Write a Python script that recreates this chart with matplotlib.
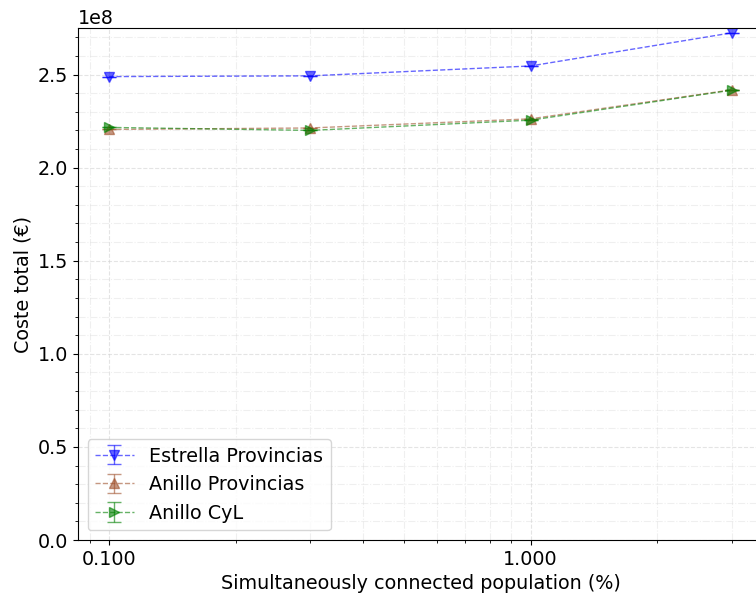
import numpy as np
import matplotlib
matplotlib.use('Agg')
import matplotlib.pyplot as plt
from matplotlib.ticker import FormatStrFormatter, MultipleLocator

# Data
population = [0.1, 0.3, 1.0, 3.0]
estrella_prov = [2.489e8, 2.493e8, 2.546e8, 2.724e8]
anillo_prov = [2.205e8, 2.213e8, 2.262e8, 2.418e8]
anillo_cyl = [2.216e8, 2.200e8, 2.255e8, 2.416e8]
estrella_err = [0.0, 0.0, 0.0, 0.0]
anillo_prov_err = [0.0, 0.0, 0.0, 0.0]
anillo_cyl_err = [0.0, 0.0, 0.0, 0.0]

fs = 13.8

fig = plt.figure(figsize=(7.56, 5.98), dpi=100)
ax = fig.add_axes([78 / 756, 1 - 540 / 598, (763 - 78) / 756, (540 - 28) / 598])

ax.errorbar(population, estrella_prov, yerr=estrella_err, fmt='v--', color='blue',
            alpha=0.6, capsize=5, markersize=7, linewidth=1, label='Estrella Provincias')
ax.errorbar(population, anillo_prov, yerr=anillo_prov_err, fmt='^--', color='sienna',
            alpha=0.6, capsize=5, markersize=7, linewidth=1, label='Anillo Provincias')
ax.errorbar(population, anillo_cyl, yerr=anillo_cyl_err, fmt='>--', color='green',
            alpha=0.6, capsize=5, markersize=7, linewidth=1, label='Anillo CyL')

ax.set_xscale('log')
ax.set_xlim(0.0844, 3.56)
ax.set_ylim(0, 2.75e8)
ax.xaxis.set_major_formatter(FormatStrFormatter('%.3f'))
ax.yaxis.set_major_locator(MultipleLocator(0.5e8))
ax.yaxis.set_minor_locator(MultipleLocator(0.1e8))

ax.grid(True, which='major', linestyle='--', color='lightgray', alpha=0.6)
ax.grid(True, which='minor', linestyle='-.', color='lightgray', alpha=0.35)

ax.tick_params(labelsize=fs)
ax.yaxis.get_offset_text().set_fontsize(fs)
ax.set_xlabel('Simultaneously connected population (%)', fontsize=fs)
ax.set_ylabel('Coste total (€)', fontsize=fs)
ax.legend(loc='lower left', fontsize=fs)

plt.savefig('out.png', dpi=100)
